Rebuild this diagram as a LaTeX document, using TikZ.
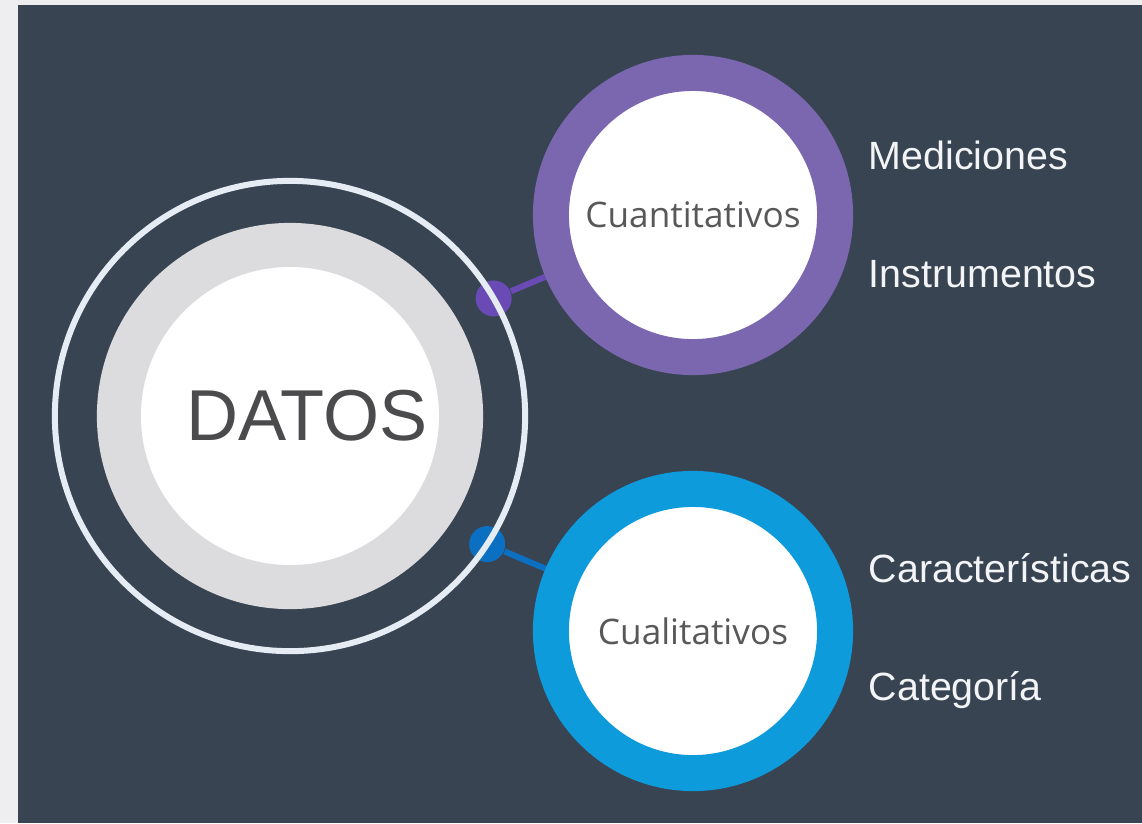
\documentclass[tikz,border=0pt]{standalone}
\usepackage{fontspec}
\setmainfont{Liberation Sans}
\newfontfamily\ringfont{Open Sans}
\usetikzlibrary{positioning}
\pgfdeclarelayer{backdrop}
\pgfdeclarelayer{links}
\pgfsetlayers{backdrop,links,main}

\definecolor{pagegray}{HTML}{EEEEF0}
\definecolor{slate}{HTML}{384452}
\definecolor{rimwhite}{HTML}{E6ECF4}
\definecolor{coregray}{HTML}{DCDCDE}
\definecolor{datostext}{HTML}{4B4B4D}
\definecolor{ringtext}{HTML}{58585A}
\definecolor{cuantipurple}{HTML}{7B67B0}
\definecolor{knobpurple}{HTML}{6A4BB5}
\definecolor{cualiblue}{HTML}{0E9BDC}
\definecolor{knobblue}{HTML}{0B6FC2}
\definecolor{itemwhite}{HTML}{F2F4F6}

\begin{document}
\begin{tikzpicture}[
  x=0.01cm, y=-0.01cm,
  every node/.style={
    circle, inner sep=0pt,
  },
  rim/.style={draw=rimwhite, line width=0.06cm, minimum size=4.70cm, outer sep=0pt},
  core/.style={fill=white, draw=coregray, line width=0.44cm, minimum size=3.42cm,
    text=datostext, font=\fontsize{20.5}{24}\selectfont},
  ring/.style={fill=white, line width=0.36cm, minimum size=2.84cm,
    text=ringtext, font=\ringfont\fontsize{10}{12}\selectfont},
  knob/.style={minimum size=0.36cm},
  link/.style={line width=0.06cm},
  item/.style={rectangle, text=itemwhite, font=\fontsize{11.2}{13}\selectfont}
]
\useasboundingbox (0,0) rectangle (1142,823);
\begin{pgfonlayer}{backdrop}
\fill[pagegray] (0,0) rectangle (1142,823);
\fill[slate] (18,5) rectangle (1142,823);
\end{pgfonlayer}

\node[core] (datos) at (290,416) {\hspace{0.34cm}DATOS};
\node[rim] (datosrim) at (datos) {};

\node[ring, draw=cuantipurple] (cuanti) at (693,215) {Cuantitativos};
\node[ring, draw=cualiblue] (cuali) at (693,631) {Cualitativos};

\node[item, above right=0.45cm and 0.15cm of cuanti.east, anchor=base west] (medic) {Mediciones};
\node[item, below right=0.72cm and 0.15cm of cuanti.east, anchor=base west] (instr) {Instrumentos};
\node[item, above right=0.48cm and 0.15cm of cuali.east, anchor=base west] (caract) {Características};
\node[item, below right=0.69cm and 0.15cm of cuali.east, anchor=base west] (categ) {Categoría};

\begin{pgfonlayer}{links}
\node[knob, fill=knobpurple] (cuantiknob) at (datosrim.30.5) {};
\node[knob, fill=knobblue] (cualiknob) at (datosrim.-33) {};
\draw[link, knobpurple] (cuantiknob) -- (cuanti);
\draw[link, knobblue] (cualiknob) -- (cuali);
\end{pgfonlayer}
\end{tikzpicture}
\end{document}
